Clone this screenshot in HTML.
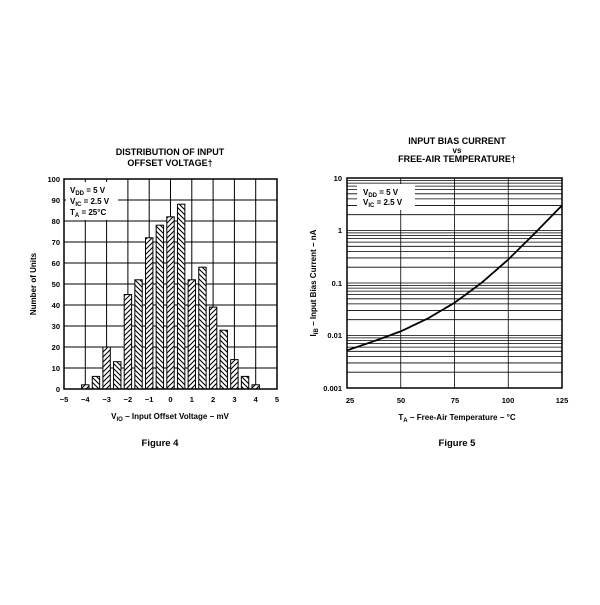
<!DOCTYPE html><html><head><style>body{margin:0;background:#fff}</style></head><body>
<svg width="600" height="600" xmlns="http://www.w3.org/2000/svg" font-family="Liberation Sans, sans-serif" font-weight="bold">
<defs>
<pattern id="h1" patternUnits="userSpaceOnUse" width="5" height="5"><rect width="5" height="5" fill="#fff"/><path d="M-1,6 L6,-1 M-1,1 L1,-1 M4,6 L6,4" stroke="#000" stroke-width="1.1"/></pattern>
<pattern id="h2" patternUnits="userSpaceOnUse" width="5" height="5"><rect width="5" height="5" fill="#fff"/><path d="M-1,-1 L6,6 M4,-1 L6,1 M-1,4 L1,6" stroke="#000" stroke-width="1.1"/></pattern>
</defs>
<text x="170" y="155" font-size="9" text-anchor="middle">DISTRIBUTION OF INPUT</text>
<text x="170" y="166" font-size="9" text-anchor="middle">OFFSET VOLTAGE†</text>
<g stroke="#000" stroke-width="1">
<line x1="85.3" y1="179" x2="85.3" y2="389"/><line x1="106.6" y1="179" x2="106.6" y2="389"/><line x1="127.9" y1="179" x2="127.9" y2="389"/><line x1="149.2" y1="179" x2="149.2" y2="389"/><line x1="170.5" y1="179" x2="170.5" y2="389"/><line x1="191.8" y1="179" x2="191.8" y2="389"/><line x1="213.1" y1="179" x2="213.1" y2="389"/><line x1="234.4" y1="179" x2="234.4" y2="389"/><line x1="255.7" y1="179" x2="255.7" y2="389"/>
<line x1="64" y1="200" x2="277" y2="200"/><line x1="64" y1="221" x2="277" y2="221"/><line x1="64" y1="242" x2="277" y2="242"/><line x1="64" y1="263" x2="277" y2="263"/><line x1="64" y1="284" x2="277" y2="284"/><line x1="64" y1="305" x2="277" y2="305"/><line x1="64" y1="326" x2="277" y2="326"/><line x1="64" y1="347" x2="277" y2="347"/><line x1="64" y1="368" x2="277" y2="368"/>
</g>
<rect x="66" y="182" width="52" height="38" fill="#fff"/>
<g id="bars" stroke="#000" stroke-width="1"></g>
<rect x="64" y="179" width="213" height="210" fill="none" stroke="#000" stroke-width="1.5"/>
<g font-size="8">
<text x="70" y="193">V<tspan font-size="6" dy="2">DD</tspan><tspan dy="-2"> = 5 V</tspan></text>
<text x="70" y="204">V<tspan font-size="6" dy="2">IC</tspan><tspan dy="-2"> = 2.5 V</tspan></text>
<text x="70" y="215">T<tspan font-size="6" dy="2">A</tspan><tspan dy="-2"> = 25°C</tspan></text>
</g>
<g font-size="7.5" text-anchor="end">
<text x="60" y="182">100</text><text x="60" y="203">90</text><text x="60" y="224">80</text><text x="60" y="245">70</text><text x="60" y="266">60</text><text x="60" y="287">50</text><text x="60" y="308">40</text><text x="60" y="329">30</text><text x="60" y="350">20</text><text x="60" y="371">10</text><text x="60" y="392">0</text>
</g>
<g font-size="7.5" text-anchor="middle">
<text x="64" y="402">−5</text><text x="85.3" y="402">−4</text><text x="106.6" y="402">−3</text><text x="127.9" y="402">−2</text><text x="149.2" y="402">−1</text><text x="170.5" y="402">0</text><text x="191.8" y="402">1</text><text x="213.1" y="402">2</text><text x="234.4" y="402">3</text><text x="255.7" y="402">4</text><text x="277" y="402">5</text>
</g>
<text x="170" y="419" font-size="8" text-anchor="middle">V<tspan font-size="6" dy="2">IO</tspan><tspan dy="-2"> − Input Offset Voltage − mV</tspan></text>
<text transform="translate(36,284) rotate(-90)" font-size="8" text-anchor="middle">Number of Units</text>
<text x="160" y="446" font-size="9.5" text-anchor="middle">Figure 4</text>

<text x="457" y="144" font-size="9" text-anchor="middle">INPUT BIAS CURRENT</text>
<text x="457" y="153" font-size="8" text-anchor="middle">vs</text>
<text x="457" y="162" font-size="9" text-anchor="middle">FREE-AIR TEMPERATURE†</text>
<g id="grid2" stroke="#000" stroke-width="0.8"></g>
<rect x="357" y="184" width="58" height="26" fill="#fff"/>
<g font-size="8">
<text x="363" y="195">V<tspan font-size="6" dy="2">DD</tspan><tspan dy="-2"> = 5 V</tspan></text>
<text x="363" y="205">V<tspan font-size="6" dy="2">IC</tspan><tspan dy="-2"> = 2.5 V</tspan></text>
</g>
<path id="curve" fill="none" stroke="#000" stroke-width="1.8"/>
<rect x="347" y="178" width="215" height="210" fill="none" stroke="#000" stroke-width="1.5"/>
<g font-size="7.5" text-anchor="end">
<text x="342" y="181">10</text><text x="342" y="233">1</text><text x="342" y="286">0.1</text><text x="342" y="338">0.01</text><text x="342" y="391">0.001</text>
</g>
<g font-size="7.5" text-anchor="middle">
<text x="350" y="403">25</text><text x="401" y="403">50</text><text x="455" y="403">75</text><text x="508" y="403">100</text><text x="562" y="403">125</text>
</g>
<text x="457" y="420" font-size="8" text-anchor="middle">T<tspan font-size="6" dy="2">A</tspan><tspan dy="-2"> − Free-Air Temperature − °C</tspan></text>
<text transform="translate(316,283) rotate(-90)" font-size="8" text-anchor="middle">I<tspan font-size="6" dy="2">IB</tspan><tspan dy="-2"> − Input Bias Current − nA</tspan></text>
<text x="457" y="446" font-size="9.5" text-anchor="middle">Figure 5</text>
</svg>
<script>
var ns="http://www.w3.org/2000/svg";
var vals=[2,6,20,13,45,52,72,78,82,88,52,58,39,28,14,6,2];
var g=document.getElementById('bars');
vals.forEach(function(v,i){var c=-4+0.5*i;var x=170.5+c*21.3;var h=v*2.1;
var r=document.createElementNS(ns,'rect');r.setAttribute('x',x-3.7);r.setAttribute('y',389-h);r.setAttribute('width',7.4);r.setAttribute('height',h);r.setAttribute('fill',i%2?'url(#h2)':'url(#h1)');g.appendChild(r);});
var g2=document.getElementById('grid2');
function ln(x1,y1,x2,y2){var l=document.createElementNS(ns,'line');l.setAttribute('x1',x1);l.setAttribute('y1',y1);l.setAttribute('x2',x2);l.setAttribute('y2',y2);g2.appendChild(l);}
for(var d=0;d<4;d++)for(var m=1;m<10;m++){var y=388-52.5*(d+Math.log10(m));ln(347,y,562,y);}
[400.75,454.5,508.25].forEach(function(x){ln(x,178,x,388);});
var pts=[[25,0.0052],[37.5,0.0078],[50,0.012],[62.5,0.021],[75,0.042],[87.5,0.1],[100,0.28],[112.5,0.9],[125,3]];
var d="";for(var t=25;t<=125;t+=1){var k=Math.min(7,Math.floor((t-25)/12.5));var f=(t-25-12.5*k)/12.5;var a=Math.log10(pts[k][1]),b=Math.log10(pts[k+1][1]);var lv=a+(b-a)*f;var x=347+(t-25)*2.15;var y=388-52.5*(lv+3);d+=(t==25?"M":"L")+x.toFixed(1)+","+y.toFixed(1);}
document.getElementById('curve').setAttribute('d',d);
</script>
</body></html>
